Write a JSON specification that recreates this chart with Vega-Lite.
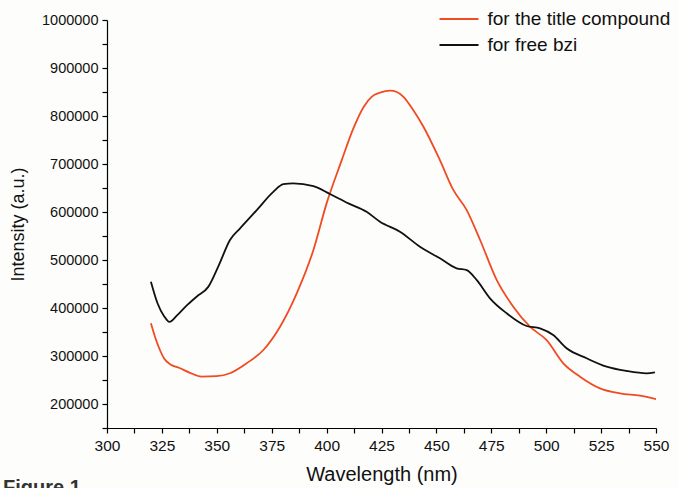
{
  "$schema": "https://vega.github.io/schema/vega-lite/v6.json",
  "width": 549,
  "height": 408,
  "autosize": {"type": "none"},
  "padding": {"left": 107, "top": 20, "right": 22, "bottom": 60},
  "background": "#fdfdfb",
  "config": {
    "font": "Liberation Sans",
    "view": {"stroke": null},
    "axis": {"domainColor": "#000", "tickColor": "#000", "labelColor": "#111", "titleColor": "#111", "grid": false, "labelFontSize": 14.5, "titleFontSize": 18, "titleFontWeight": "normal", "tickSize": 5, "domainWidth": 1.2, "tickWidth": 1.2, "labelFlush": false}
  },
  "title": {"text": "Figure 1", "orient": "bottom", "anchor": "start", "frame": "group", "dx": -104, "offset": -6, "fontSize": 20, "fontWeight": "bold", "color": "#333", "baseline": "top"},
  "data": {"values": [
    {"w": 320, "I": 368000, "s": "for the title compound"},
    {"w": 322, "I": 338000, "s": "for the title compound"},
    {"w": 324.1, "I": 312500, "s": "for the title compound"},
    {"w": 326, "I": 295000, "s": "for the title compound"},
    {"w": 328.7, "I": 283000, "s": "for the title compound"},
    {"w": 333, "I": 275000, "s": "for the title compound"},
    {"w": 337.8, "I": 265000, "s": "for the title compound"},
    {"w": 343.1, "I": 257000, "s": "for the title compound"},
    {"w": 349.9, "I": 258000, "s": "for the title compound"},
    {"w": 356, "I": 264000, "s": "for the title compound"},
    {"w": 363.6, "I": 284800, "s": "for the title compound"},
    {"w": 371.2, "I": 312500, "s": "for the title compound"},
    {"w": 378.8, "I": 361000, "s": "for the title compound"},
    {"w": 386.4, "I": 430600, "s": "for the title compound"},
    {"w": 394, "I": 521000, "s": "for the title compound"},
    {"w": 400, "I": 618000, "s": "for the title compound"},
    {"w": 406.9, "I": 708000, "s": "for the title compound"},
    {"w": 412, "I": 772000, "s": "for the title compound"},
    {"w": 417, "I": 820000, "s": "for the title compound"},
    {"w": 420.5, "I": 840000, "s": "for the title compound"},
    {"w": 424.3, "I": 848500, "s": "for the title compound"},
    {"w": 428.9, "I": 852700, "s": "for the title compound"},
    {"w": 432, "I": 850000, "s": "for the title compound"},
    {"w": 435, "I": 840000, "s": "for the title compound"},
    {"w": 439.5, "I": 812000, "s": "for the title compound"},
    {"w": 444.1, "I": 777700, "s": "for the title compound"},
    {"w": 451.6, "I": 708000, "s": "for the title compound"},
    {"w": 457.7, "I": 646000, "s": "for the title compound"},
    {"w": 463.8, "I": 604000, "s": "for the title compound"},
    {"w": 469.9, "I": 541700, "s": "for the title compound"},
    {"w": 477.5, "I": 458000, "s": "for the title compound"},
    {"w": 485, "I": 402700, "s": "for the title compound"},
    {"w": 492.6, "I": 361000, "s": "for the title compound"},
    {"w": 500.2, "I": 333000, "s": "for the title compound"},
    {"w": 507.8, "I": 284800, "s": "for the title compound"},
    {"w": 515.4, "I": 257000, "s": "for the title compound"},
    {"w": 524.5, "I": 232700, "s": "for the title compound"},
    {"w": 533.6, "I": 222300, "s": "for the title compound"},
    {"w": 542.7, "I": 217300, "s": "for the title compound"},
    {"w": 550, "I": 210400, "s": "for the title compound"},
    {"w": 320, "I": 454800, "s": "for free bzi"},
    {"w": 323, "I": 410000, "s": "for free bzi"},
    {"w": 326, "I": 383000, "s": "for free bzi"},
    {"w": 328.4, "I": 371000, "s": "for free bzi"},
    {"w": 332, "I": 385000, "s": "for free bzi"},
    {"w": 336, "I": 404000, "s": "for free bzi"},
    {"w": 340.8, "I": 423500, "s": "for free bzi"},
    {"w": 346.1, "I": 444000, "s": "for free bzi"},
    {"w": 351, "I": 490000, "s": "for free bzi"},
    {"w": 356, "I": 541700, "s": "for free bzi"},
    {"w": 360.6, "I": 566000, "s": "for free bzi"},
    {"w": 368.2, "I": 604000, "s": "for free bzi"},
    {"w": 375.7, "I": 642000, "s": "for free bzi"},
    {"w": 380.3, "I": 658000, "s": "for free bzi"},
    {"w": 384.8, "I": 659800, "s": "for free bzi"},
    {"w": 394, "I": 654000, "s": "for free bzi"},
    {"w": 401.5, "I": 637500, "s": "for free bzi"},
    {"w": 409.9, "I": 618000, "s": "for free bzi"},
    {"w": 418.2, "I": 600600, "s": "for free bzi"},
    {"w": 424.3, "I": 579800, "s": "for free bzi"},
    {"w": 433.4, "I": 559000, "s": "for free bzi"},
    {"w": 442.5, "I": 527700, "s": "for free bzi"},
    {"w": 451.6, "I": 503500, "s": "for free bzi"},
    {"w": 459.2, "I": 482700, "s": "for free bzi"},
    {"w": 463.8, "I": 479000, "s": "for free bzi"},
    {"w": 468.4, "I": 458000, "s": "for free bzi"},
    {"w": 474.4, "I": 420200, "s": "for free bzi"},
    {"w": 482, "I": 389000, "s": "for free bzi"},
    {"w": 491.1, "I": 362500, "s": "for free bzi"},
    {"w": 497.2, "I": 357700, "s": "for free bzi"},
    {"w": 503.2, "I": 343700, "s": "for free bzi"},
    {"w": 509.3, "I": 316000, "s": "for free bzi"},
    {"w": 518.4, "I": 295200, "s": "for free bzi"},
    {"w": 527.5, "I": 277700, "s": "for free bzi"},
    {"w": 536.6, "I": 268750, "s": "for free bzi"},
    {"w": 545.7, "I": 264000, "s": "for free bzi"},
    {"w": 549.5, "I": 266000, "s": "for free bzi"}
  ]},
  "mark": {"type": "line", "strokeWidth": 1.8, "interpolate": "monotone"},
  "encoding": {
    "x": {"field": "w", "type": "quantitative", "scale": {"domain": [300, 550], "nice": false, "zero": false},
      "axis": {"title": "Wavelength (nm)", "titleFontSize": 20, "labelFontSize": 15.5, "values": [300, 312.5, 325, 337.5, 350, 362.5, 375, 387.5, 400, 412.5, 425, 437.5, 450, 462.5, 475, 487.5, 500, 512.5, 525, 537.5, 550],
        "labelExpr": "datum.value % 25 == 0 ? datum.label : ''", "labelPadding": 5, "titleY": 36}},
    "y": {"field": "I", "type": "quantitative", "scale": {"domain": [150000, 1000000], "nice": false, "zero": false},
      "axis": {"title": "Intensity (a.u.)", "format": "d", "values": [150000, 200000, 250000, 300000, 350000, 400000, 450000, 500000, 550000, 600000, 650000, 700000, 750000, 800000, 850000, 900000, 950000, 1000000],
        "labelExpr": "datum.value % 100000 == 0 ? datum.label : ''", "labelPadding": 4, "titleX": -80}},
    "color": {"field": "s", "type": "nominal", "scale": {"domain": ["for the title compound", "for free bzi"], "range": ["#f04b23", "#111111"]},
      "legend": {"title": null, "orient": "none", "legendX": 336, "legendY": -17, "symbolType": "M-1.3,0H1.3", "symbolSize": 900, "symbolStrokeWidth": 2, "symbolFillColor": "transparent", "labelFontSize": 19, "labelColor": "#111", "labelLimit": 300, "rowPadding": 0, "labelOffset": 12.5}}
  }
}
